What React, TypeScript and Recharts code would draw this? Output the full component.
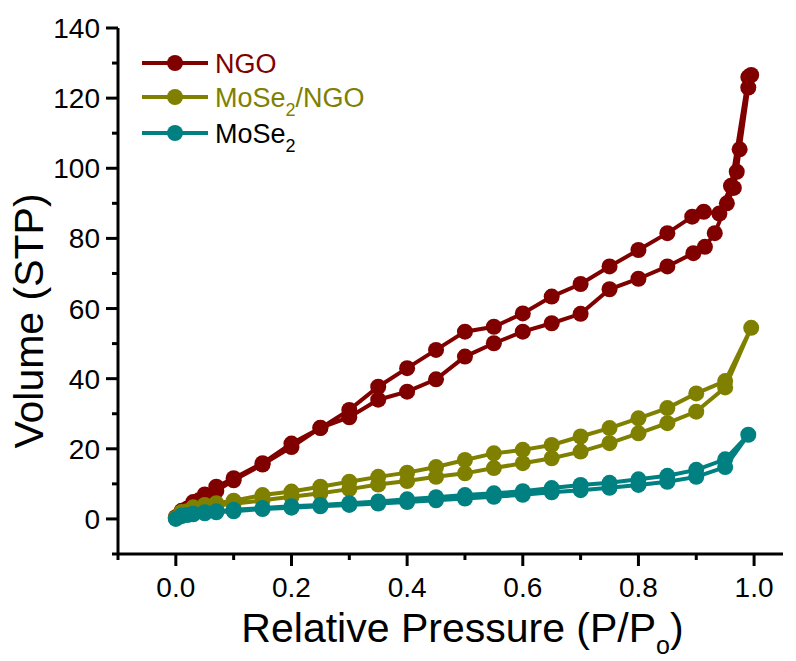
import React from 'react';
import { LineChart, Line, XAxis, YAxis, Legend } from 'recharts';

const NGO_ADS_P = [0, 0.01, 0.02, 0.03, 0.04, 0.05, 0.07, 0.1, 0.15, 0.2, 0.25, 0.3, 0.35, 0.4, 0.45, 0.5, 0.55, 0.6, 0.65, 0.7, 0.75, 0.8, 0.85, 0.895, 0.915, 0.932, 0.953, 0.965, 0.97, 0.975, 0.99, 0.995];
const NGO_ADS_V = [0.5, 2, 3, 4.3, 5.3, 6.3, 8, 11, 15.5, 20.5, 26, 29, 34, 36.3, 39.8, 46.3, 50.1, 53.4, 55.8, 58.5, 65.5, 68.5, 72, 75.8, 77.6, 81.5, 90, 94.4, 99, 105.4, 123, 126.6];
const NGO_DES_P = [0.99, 0.96, 0.94, 0.913, 0.893, 0.85, 0.8, 0.75, 0.7, 0.65, 0.6, 0.55, 0.5, 0.45, 0.4, 0.35, 0.3, 0.25, 0.2, 0.15, 0.1, 0.07, 0.05, 0.03, 0.01];
const NGO_DES_V = [126, 95, 87.1, 87.6, 86.2, 81.5, 76.7, 72, 67, 63.4, 58.6, 54.8, 53.4, 48.2, 43, 37.7, 31.1, 25.9, 21.5, 15.9, 11.6, 9.2, 7, 4.8, 2.3];

const MIX_ADS_P = [0, 0.01, 0.02, 0.03, 0.05, 0.07, 0.1, 0.15, 0.2, 0.25, 0.3, 0.35, 0.4, 0.45, 0.5, 0.55, 0.6, 0.65, 0.7, 0.75, 0.8, 0.85, 0.9, 0.95, 0.995];
const MIX_ADS_V = [0.3, 1.5, 2.2, 2.8, 3.3, 3.8, 4.3, 5.3, 6.3, 7.3, 8.5, 9.8, 10.8, 12, 13, 14.5, 15.9, 17.3, 19.2, 21.6, 24.4, 27.3, 30.6, 37.5, 54.5];
const MIX_DES_P = [0.95, 0.9, 0.85, 0.8, 0.75, 0.7, 0.65, 0.6, 0.55, 0.5, 0.45, 0.4, 0.35, 0.3, 0.25, 0.2, 0.15, 0.1, 0.07, 0.05, 0.03, 0.01];
const MIX_DES_V = [39.3, 35.8, 31.6, 28.7, 25.9, 23.5, 21.1, 19.7, 18.7, 16.8, 14.8, 13.2, 12, 10.6, 9.2, 7.8, 6.8, 5.2, 4.5, 4, 3.3, 2];

const MOSE_ADS_P = [0, 0.01, 0.02, 0.03, 0.05, 0.07, 0.1, 0.15, 0.2, 0.25, 0.3, 0.35, 0.4, 0.45, 0.5, 0.55, 0.6, 0.65, 0.7, 0.75, 0.8, 0.85, 0.9, 0.95, 0.99];
const MOSE_ADS_V = [0, 0.8, 1.1, 1.3, 1.6, 1.9, 2.2, 2.8, 3.2, 3.6, 4, 4.4, 4.8, 5.3, 5.8, 6.3, 6.9, 7.6, 8.2, 8.9, 9.7, 10.6, 12, 14.8, 24];
const MOSE_DES_P = [0.95, 0.9, 0.85, 0.8, 0.75, 0.7, 0.65, 0.6, 0.55, 0.5, 0.45, 0.4, 0.35, 0.3, 0.25, 0.2, 0.15, 0.1, 0.07, 0.05, 0.03, 0.01];
const MOSE_DES_V = [17, 14, 12.3, 11.3, 10.3, 9.7, 8.8, 7.9, 7.3, 6.8, 6.2, 5.6, 5, 4.5, 4, 3.6, 3.1, 2.6, 2.2, 1.9, 1.5, 1];

const X_TICKS = [-0.1, 0, 0.1, 0.2, 0.3, 0.4, 0.5, 0.6, 0.7, 0.8, 0.9, 1.0];
const Y_TICKS = [-10, 0, 10, 20, 30, 40, 50, 60, 70, 80, 90, 100, 110, 120, 130, 140];

const FONT = '"Liberation Sans", Arial, sans-serif';
const C_NGO = '#800000', C_MIX = '#808000', C_MOSE = '#008080';

const loop = (ap: number[], av: number[], dp: number[], dv: number[]) =>
  [...ap.map((x, i) => ({ x, y: av[i] })), ...dp.map((x, i) => ({ x, y: dv[i] }))];

const ngo = loop(NGO_ADS_P, NGO_ADS_V, NGO_DES_P, NGO_DES_V);
const mix = loop(MIX_ADS_P, MIX_ADS_V, MIX_DES_P, MIX_DES_V);
const mose = loop(MOSE_ADS_P, MOSE_ADS_V, MOSE_DES_P, MOSE_DES_V);

const XTick = ({ x, y, payload }: any) => {
  const v = payload.value;
  const major = Math.round(v * 10) % 2 === 0;
  return (
    <g>
      <line x1={x} y1={y} x2={x} y2={y + (major ? 12 : 6)} stroke="#000" strokeWidth={3} />
      {major && v >= 0 && (
        <text x={x} y={y + 43} textAnchor="middle" fontSize={28} fontFamily={FONT} fill="#000">{v.toFixed(1)}</text>
      )}
    </g>
  );
};

const YTick = ({ x, y, payload }: any) => {
  const v = payload.value;
  const major = v % 20 === 0;
  return (
    <g>
      <line x1={x - (major ? 12 : 6)} y1={y} x2={x} y2={y} stroke="#000" strokeWidth={3} />
      {major && v >= 0 && (
        <text x={x - 18} y={y + 10} textAnchor="end" fontSize={28} fontFamily={FONT} fill="#000">{v}</text>
      )}
    </g>
  );
};

const XLabel = ({ viewBox }: any) => (
  <text x={viewBox.x + viewBox.width / 2 + 12} y={642} textAnchor="middle" fontSize={41} fontFamily={FONT} fill="#000">
    Relative Pressure (P/P<tspan fontSize={25} dy={12}>o</tspan><tspan dy={-12}>)</tspan>
  </text>
);

const YLabel = () => (
  <text x={0} y={0} transform="translate(43,321) rotate(-90)" textAnchor="middle" fontSize={41} fontFamily={FONT} fill="#000">
    Volume (STP)
  </text>
);

const LEGEND = [
  { name: 'NGO', color: C_NGO, text: C_NGO, y: 23 },
  { name: 'MoSe', sub: '2', rest: '/NGO', color: C_MIX, text: C_MIX, y: 57 },
  { name: 'MoSe', sub: '2', rest: '', color: C_MOSE, text: '#000', y: 93 },
];

const renderLegend = () => (
  <svg width={260} height={120}>
    {LEGEND.map(r => (
      <g key={r.name + r.rest}>
        <line x1={12} y1={r.y} x2={78} y2={r.y} stroke={r.color} strokeWidth={4} />
        <circle cx={45} cy={r.y} r={8} fill={r.color} />
        <text x={85} y={r.y + 10} fontSize={27} fontFamily={FONT} fill={r.text}>
          {r.name}
          {r.sub && <tspan fontSize={18} dy={9}>{r.sub}</tspan>}
          {r.sub && <tspan dy={-9}>{r.rest}</tspan>}
        </text>
      </g>
    ))}
  </svg>
);

export default function App() {
  const dot = (c: string) => ({ r: 8, fill: c, stroke: c, strokeWidth: 0 });
  return (
    <div style={{ position: 'absolute', left: 0, top: 0, background: '#fff' }}>
      <LineChart width={796} height={661} margin={{ top: 28, right: 13, left: 0, bottom: 0 }}>
        <XAxis dataKey="x" type="number" domain={[-0.1, 1.05]} ticks={X_TICKS} interval={0}
               height={107} tickSize={0} tickMargin={0} tickLine={false} tick={<XTick />}
               axisLine={{ stroke: '#000', strokeWidth: 3 }} label={<XLabel />} allowDataOverflow />
        <XAxis xAxisId="top" orientation="top" dataKey="x" type="number" domain={[-0.1, 1.05]}
               height={0} tick={false} tickLine={false} axisLine={{ stroke: '#000', strokeWidth: 3 }} />
        <YAxis type="number" domain={[-10, 140]} ticks={Y_TICKS} interval={0} width={118}
               tickSize={0} tickMargin={0} tickLine={false} tick={<YTick />}
               axisLine={{ stroke: '#000', strokeWidth: 3 }} label={<YLabel />} allowDataOverflow />
        <YAxis yAxisId="right" orientation="right" type="number" domain={[-10, 140]} width={0}
               tick={false} tickLine={false} axisLine={{ stroke: '#000', strokeWidth: 3 }} />
        <Legend content={renderLegend} layout="vertical" align="center" verticalAlign="middle"
                wrapperStyle={{ position: 'absolute', left: 130, top: 40, width: 260 }} />
        <Line data={ngo} dataKey="y" name="NGO" stroke={C_NGO} strokeWidth={4} dot={dot(C_NGO)}
              isAnimationActive={false} type="linear" />
        <Line data={mix} dataKey="y" name="MoSe2/NGO" stroke={C_MIX} strokeWidth={4} dot={dot(C_MIX)}
              isAnimationActive={false} type="linear" />
        <Line data={mose} dataKey="y" name="MoSe2" stroke={C_MOSE} strokeWidth={4} dot={dot(C_MOSE)}
              isAnimationActive={false} type="linear" />
      </LineChart>
    </div>
  );
}
